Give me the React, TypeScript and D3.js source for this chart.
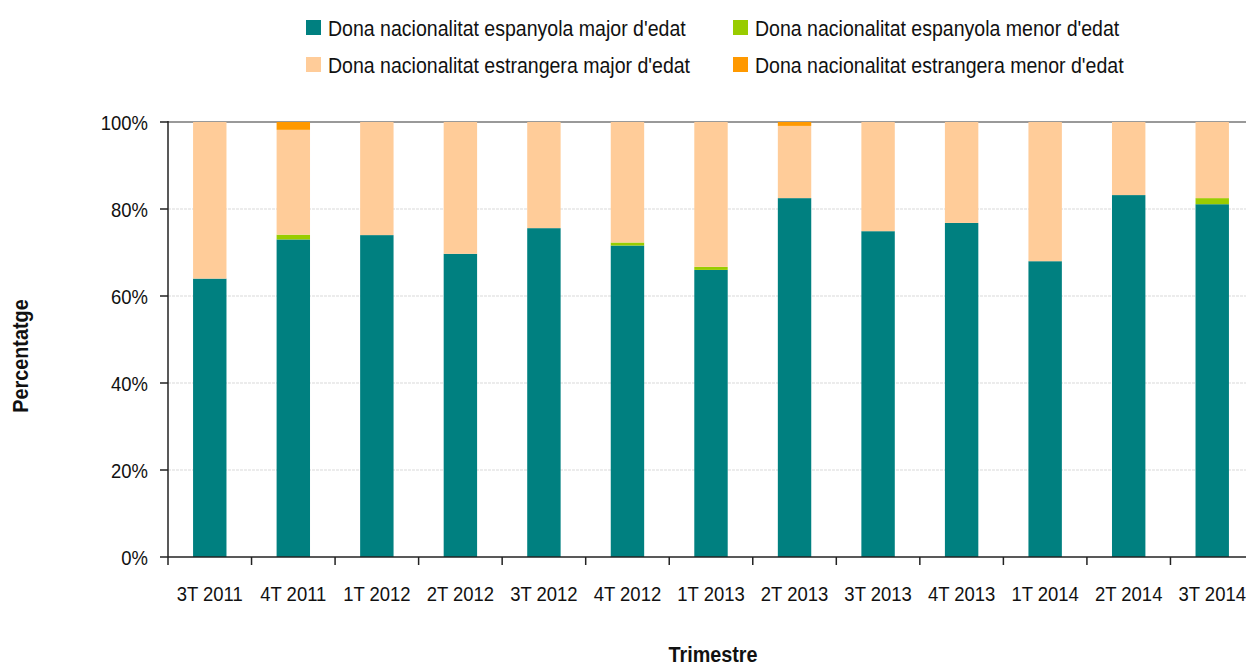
import React from "react";
import * as d3 from "d3";

// trimestres
const categories = [
  "3T 2011", "4T 2011", "1T 2012", "2T 2012", "3T 2012", "4T 2012", "1T 2013",
  "2T 2013", "3T 2013", "4T 2013", "1T 2014", "2T 2014", "3T 2014",
];

const espMajor = [64.0, 73.0, 74.0, 69.7, 75.6, 71.6, 66.0, 82.5, 74.9, 76.8, 68.0, 83.2, 81.1];
const espMenor = [0, 1.1, 0, 0, 0, 0.7, 0.7, 0, 0, 0, 0, 0, 1.4];
const estrMajor = [36.0, 24.1, 26.0, 30.3, 24.4, 27.7, 33.3, 16.6, 25.1, 23.2, 32.0, 16.8, 17.5];
const estrMenor = [0, 1.8, 0, 0, 0, 0, 0, 0.9, 0, 0, 0, 0, 0];

const seriesNames = [
  "Dona nacionalitat espanyola major d'edat",
  "Dona nacionalitat espanyola menor d'edat",
  "Dona nacionalitat estrangera major d'edat",
  "Dona nacionalitat estrangera menor d'edat",
];
const seriesColors = ["#008080", "#99CC00", "#FFCC99", "#FF9900"];
const yTicks = [0, 20, 40, 60, 80, 100];

const W = 1246;
const H = 666;
const left = 168;
const right = 1254;
const top = 122;
const bottom = 557;
const font = "'Liberation Sans', Arial, sans-serif";
const SX = 0.88; // the original text looks horizontally condensed

// narrow-looking label
const Txt = ({ x, y, anchor = "start", size = 21, weight = "normal", children }: any) => (
  <text
    transform={`translate(${x},${y}) scale(${SX},1)`}
    textAnchor={anchor}
    fontSize={size}
    fontWeight={weight}
    fill="#111"
  >
    {children}
  </text>
);

export default function App() {
  const x = d3.scaleBand<string>().domain(categories).range([left, right]).paddingInner(0.6).paddingOuter(0.3);
  const y = d3.scaleLinear().domain([0, 100]).range([bottom, top]);

  const rows = categories.map((c, i) => ({
    cat: c,
    s0: espMajor[i],
    s1: espMenor[i],
    s2: estrMajor[i],
    s3: estrMenor[i],
  }));
  const stack = d3.stack<any>().keys(["s0", "s1", "s2", "s3"])(rows);
  const step = x.step();

  // legend layout: two columns, two rows
  const legendPos = [
    { x: 306, y: 28 },
    { x: 733, y: 28 },
    { x: 306, y: 65 },
    { x: 733, y: 65 },
  ];

  return (
    <svg width={W} height={H} style={{ position: "absolute", left: 0, top: 0 }} fontFamily={font}>
      <rect width={W} height={H} fill="#fff" />

      {/* gridlines */}
      {yTicks.filter((t) => t > 0 && t < 100).map((t) => (
        <line key={t} x1={left} x2={right} y1={y(t)} y2={y(t)} stroke="#d9d9d9" strokeWidth={1} strokeDasharray="3,1" />
      ))}
      <line x1={left} x2={right} y1={y(100)} y2={y(100)} stroke="#999" strokeWidth={2} />

      {/* bars */}
      {stack.map((layer, li) => (
        <g key={li} fill={seriesColors[li]}>
          {layer.map((d, i) =>
            d[1] - d[0] > 0 ? (
              <rect
                key={i}
                x={x(categories[i])}
                width={x.bandwidth()}
                y={y(d[1])}
                height={y(d[0]) - y(d[1])}
              />
            ) : null
          )}
        </g>
      ))}

      {/* y axis */}
      <line x1={left} x2={left} y1={top - 1} y2={bottom} stroke="#222" strokeWidth={1.5} />
      {yTicks.map((t) => (
        <g key={t}>
          <line x1={left - 8} x2={left} y1={y(t)} y2={y(t)} stroke="#222" strokeWidth={1.5} />
          <Txt x={left - 20} y={y(t) + 7.5} anchor="end">
            {t}%
          </Txt>
        </g>
      ))}

      {/* x axis */}
      <line x1={left} x2={right} y1={bottom} y2={bottom} stroke="#222" strokeWidth={1.5} />
      {categories.map((c, i) => (
        <g key={c}>
          <line x1={left + i * step} x2={left + i * step} y1={bottom} y2={bottom + 8} stroke="#222" strokeWidth={1.5} />
          <Txt x={(x(c) as number) + x.bandwidth() / 2} y={601} anchor="middle">
            {c}
          </Txt>
        </g>
      ))}

      {/* axis titles */}
      <Txt x={713} y={662} anchor="middle" size={22.5} weight="bold">
        Trimestre
      </Txt>
      <text
        transform={`translate(28,356) rotate(-90) scale(${SX},1)`}
        textAnchor="middle"
        fontSize={22.5}
        fontWeight="bold"
        fill="#111"
      >
        Percentatge
      </text>

      {/* legend */}
      {seriesNames.map((name, i) => (
        <g key={name}>
          <rect x={legendPos[i].x} y={legendPos[i].y - 8} width={15} height={15} fill={seriesColors[i]} />
          <Txt x={legendPos[i].x + 22} y={legendPos[i].y + 7.5} size={22.2}>
            {name}
          </Txt>
        </g>
      ))}
    </svg>
  );
}
